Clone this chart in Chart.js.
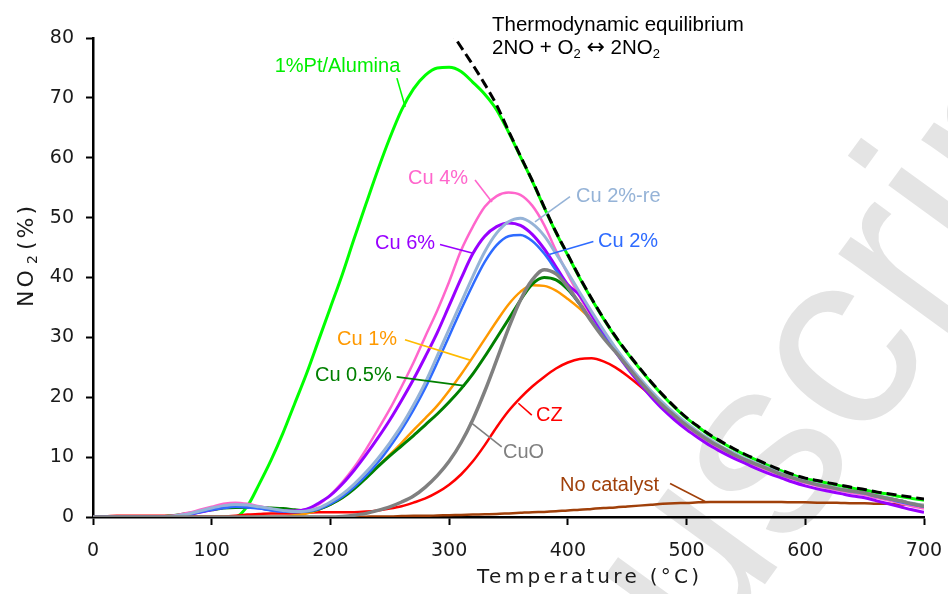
<!DOCTYPE html>
<html><head><meta charset="utf-8">
<script src="https://cdn.jsdelivr.net/npm/chart.js@4.4.1/dist/chart.umd.min.js"></script>
<style>html,body{margin:0;padding:0;background:#fff}canvas{display:block}</style>
</head><body>
<canvas id="ch" width="948" height="594"></canvas>
<script>
// NO2 vs temperature — Cu catalysts, Pt/Alumina, thermodynamic equilibrium
const temps=[0,10,20,30,40,50,60,70,80,90,100,110,120,130,140,150,160,170,180,190,200,210,220,230,240,250,260,270,280,290,300,310,320,330,340,350,360,370,380,390,400,410,420,430,440,450,460,470,480,490,500,510,520,530,540,550,560,570,580,590,600,610,620,630,640,650,660,670,680,690,700];
const xTicks=[0,100,200,300,400,500,600,700];
const yTicks=[0,10,20,30,40,50,60,70,80];

const equilibrium=[null,null,null,null,null,null,null,null,null,null,null,null,null,null,null,null,null,null,null,null,null,null,null,null,null,null,null,null,null,null,
 81.5,78.5,75.5,72.3,68.8,64.5,60.3,56.2,51.8,47.6,43.8,40.0,36.5,33.2,30.2,27.5,25.0,22.6,20.4,18.4,16.6,15.1,13.7,12.5,11.4,10.4,9.5,8.6,7.8,7.1,6.5,6.1,5.7,5.3,4.9,4.6,4.2,3.9,3.6,3.3,3.0];
const ptAlumina=[0,0,0,0,0,0,0,0,0,0,0,0,0,1.8,5.5,9.5,14.0,19.0,24.0,29.5,35.0,40.5,46.5,52.3,58.0,63.3,68.0,71.5,73.8,75.0,
 75.1,74.4,72.6,70.6,68.0,64.3,60.2,56.1,51.7,47.5,43.7,39.9,36.4,33.1,30.1,27.4,24.9,22.5,20.3,18.3,16.5,15.0,13.6,12.4,11.3,10.3,9.4,8.5,7.7,7.0,6.4,6.0,5.6,5.2,4.8,4.5,4.1,3.8,3.4,3.1,2.8];
const cu4=[0,0,0,0,0,0,0.1,0.3,0.7,1.2,1.7,2.2,2.4,2.2,1.8,1.4,1.1,1.0,1.3,2.1,3.7,5.8,8.3,11.3,14.6,18.0,21.8,25.8,30.2,34.5,
 39.3,44.5,48.5,51.8,53.6,54.2,53.8,52.0,48.8,44.5,40.5,36.8,33.3,30.3,27.6,25.0,22.6,20.4,18.4,16.7,15.1,13.7,12.4,11.3,10.2,9.3,8.5,7.7,6.9,6.3,5.7,5.2,4.8,4.4,4.0,3.7,3.2,2.8,2.3,1.8,1.4];
const cu6=[0,0,0,0,0,0,0,0.1,0.4,0.8,1.2,1.6,1.8,1.7,1.5,1.2,1.0,1.0,1.3,2.3,3.6,5.5,7.8,10.4,13.2,16.2,19.5,23.0,26.8,30.8,
 35.3,39.8,44.0,46.9,48.5,49.1,48.7,47.2,44.8,41.8,38.8,37.0,33.8,30.6,27.6,24.9,22.4,20.1,18.0,16.2,14.6,13.2,11.9,10.8,9.8,8.9,8.0,7.2,6.5,5.8,5.2,4.7,4.3,3.9,3.5,3.2,2.7,2.2,1.7,1.2,0.8];
const cu2re=[0,0,0,0,0,0,0,0.2,0.5,1.0,1.5,1.9,2.1,2.0,1.7,1.4,1.1,0.9,1.0,1.5,2.5,3.8,5.5,7.5,9.8,12.4,15.3,18.7,22.5,26.9,
 31.4,35.8,40.2,44.3,47.4,49.3,49.9,49.0,47.0,44.0,40.8,37.5,34.3,31.2,28.3,25.7,23.3,21.1,19.1,17.3,15.7,14.2,12.9,11.7,10.7,9.7,8.9,8.1,7.3,6.6,6.0,5.5,5.1,4.7,4.3,4.0,3.6,3.2,2.7,2.3,1.9];
const cu2=[0,0,0,0,0,0,0,0.1,0.4,0.8,1.2,1.5,1.7,1.6,1.4,1.1,0.9,0.8,0.9,1.3,2.2,3.4,5.0,6.9,9.1,11.7,14.6,17.9,21.6,25.8,
 30.2,34.6,38.8,42.6,45.4,46.9,47.1,46.1,44.0,41.2,38.3,35.5,32.8,30.2,27.6,25.1,22.8,20.6,18.7,16.9,15.3,13.9,12.6,11.5,10.4,9.5,8.7,7.9,7.1,6.5,5.9,5.4,5.0,4.6,4.2,3.9,3.4,3.0,2.5,2.1,1.7];
const cu1=[0,0,0,0,0,0,0,0,0,0,0,0,0,0,0,0,0,0.3,0.6,1.2,2.1,3.2,4.8,6.6,8.5,10.4,12.4,14.5,16.5,18.6,
 21.1,23.8,26.7,29.7,32.7,35.5,37.6,38.7,38.6,37.8,36.4,34.8,32.9,30.6,27.8,25.2,22.8,20.6,18.6,16.9,15.3,13.9,12.6,11.5,10.4,9.5,8.7,7.9,7.1,6.5,5.9,5.4,5.0,4.6,4.3,4.0,3.5,3.1,2.7,2.2,1.8];
const cu05=[0,0,0,0,0,0,0.1,0.3,0.6,0.9,1.2,1.5,1.6,1.6,1.6,1.5,1.4,1.2,1.0,1.3,2.1,3.2,4.7,6.5,8.4,10.2,11.9,13.6,15.4,17.2,
 19.2,21.4,23.9,26.8,29.9,33.0,36.2,38.9,40.0,39.6,38.0,35.6,33.0,30.4,27.8,25.2,22.8,20.6,18.6,16.9,15.3,13.9,12.6,11.5,10.4,9.5,8.7,7.9,7.1,6.5,5.9,5.4,5.0,4.6,4.3,4.0,3.5,3.1,2.7,2.2,1.8];
const cuO=[0,0,0,0,0,0,0,0,0,0,0,0,0,0,0,0,0,0,0,0,0,0.1,0.3,0.6,1.1,1.7,2.5,3.5,5.0,6.9,
 9.3,12.4,16.3,21.0,26.2,31.5,36.2,39.6,41.3,40.6,38.4,35.6,32.6,29.9,27.6,25.2,22.8,20.6,18.6,16.9,15.3,13.9,12.6,11.5,10.4,9.5,8.7,7.9,7.1,6.5,5.9,5.4,5.0,4.6,4.3,4.0,3.5,3.1,2.7,2.2,1.8];
const cz=[0.1,0.1,0.2,0.2,0.2,0.2,0.2,0.2,0.2,0.1,0.1,0.1,0.2,0.4,0.5,0.6,0.6,0.6,0.7,0.8,0.8,0.8,0.8,0.9,1.1,1.4,1.8,2.4,3.1,4.1,
 5.4,7.1,9.3,12.0,15.0,17.7,19.9,21.8,23.4,24.8,25.8,26.4,26.5,26.0,25.0,23.6,22.0,20.3,18.5,16.8,15.2,13.8,12.5,11.4,10.3,9.4,8.6,7.8,7.0,6.4,5.8,5.3,4.9,4.5,4.2,3.9,3.4,3.0,2.6,2.1,1.7];
const noCatalyst=[0,0,0,0,0,0,0,0,0,0,0,0,0,0,0,0,0,0,0,0,0,0,0,0.05,0.1,0.1,0.15,0.2,0.2,0.25,
 0.3,0.35,0.4,0.45,0.5,0.6,0.7,0.8,0.85,0.95,1.1,1.2,1.35,1.5,1.6,1.75,1.9,2.05,2.2,2.3,2.35,2.45,2.5,2.5,2.5,2.5,2.5,2.5,2.5,2.45,2.45,2.4,2.4,2.35,2.3,2.3,2.2,2.2,2.1,2.05,2.0];

(function(){
  const LBL='"Liberation Sans", Arial, sans-serif', VER='"DejaVu Sans", Verdana, sans-serif';
  // series: first = drawn on top
  const SER=[
    {label:'Equilibrium',data:equilibrium,color:'#000000',w:3,dash:[10,5]},
    {label:'CuO',data:cuO,color:'#808080',w:3.5},
    {label:'Cu 2%-re',data:cu2re,color:'#95b3d7',w:3},
    {label:'Cu 2%',data:cu2,color:'#2e6bff',w:2.5},
    {label:'Cu 6%',data:cu6,color:'#9900ff',w:3},
    {label:'Cu 4%',data:cu4,color:'#ff66cc',w:2.5},
    {label:'Cu 0.5%',data:cu05,color:'#008000',w:3},
    {label:'Cu 1%',data:cu1,color:'#ff9900',w:2.5},
    {label:'CZ',data:cz,color:'#ff0000',w:2.5},
    {label:'1%Pt/Alumina',data:ptAlumina,color:'#00ff00',w:3},
    {label:'No catalyst',data:noCatalyst,color:'#a0400a',w:2.5}
  ];
  // callouts in data units: text at, leader from -> to
  const NOTES=[
    {t:'1%Pt/Alumina',c:'#00ee00',lc:'#00ff00',at:[153,75.2],a:[256,73.3],b:[263,68.5]},
    {t:'Cu 4%',c:'#ff66cc',lc:'#ff66cc',at:[265.4,56.6],a:[321.8,56.3],b:[336.1,52.6]},
    {t:'Cu 6%',c:'#9900ff',lc:'#9900ff',at:[237.6,45.7],a:[292.3,45.5],b:[319.3,44.1]},
    {t:'Cu 2%-re',c:'#95b3d7',lc:'#95b3d7',at:[406.9,53.5],a:[401.8,53.5],b:[372.3,49.3]},
    {t:'Cu 2%',c:'#2e6bff',lc:'#2e6bff',at:[425.4,46.0],a:[421.5,46.0],b:[383.5,43.8]},
    {t:'Cu 1%',c:'#ff9900',lc:'#ffbb00',at:[205.6,29.6],a:[262.8,29.6],b:[317.6,26.2]},
    {t:'Cu 0.5%',c:'#008000',lc:'#008000',at:[187,23.7],a:[255.8,23.4],b:[313.4,21.9]},
    {t:'CZ',c:'#ff0000',lc:'#ff0000',at:[373.2,17.0],a:[369.6,17.0],b:[358.3,19.0]},
    {t:'CuO',c:'#808080',lc:'#808080',at:[345.4,10.8],a:[344.3,11.7],b:[317.6,15.9]},
    {t:'No catalyst',c:'#a0400a',lc:'#a0400a',at:[393.4,5.3],a:[486.1,5.6],b:[515.6,2.6]}
  ];

  const wm={id:'wm',beforeDraw(c){
    const ctx=c.ctx; ctx.save(); ctx.fillStyle='#fff'; ctx.fillRect(0,0,c.width,c.height);
    ctx.translate(704,668); ctx.rotate(-54*Math.PI/180);
    ctx.font='255px '+LBL; ctx.fillStyle='#e4e4e4'; ctx.textBaseline='alphabetic';
    const off=ctx.measureText('man').width; ctx.fillText('manuscript',-off,0); ctx.restore();
  }};

  const notes={id:'notes',afterDatasetsDraw(c){
    const ctx=c.ctx, X=c.scales.x, Y=c.scales.y;
    const px=p=>[X.getPixelForValue(p[0]),Y.getPixelForValue(p[1])];
    ctx.save();
    for(const n of NOTES){
      const a=px(n.a), b=px(n.b), t=px(n.at);
      ctx.strokeStyle=n.lc; ctx.lineWidth=1.6; ctx.beginPath(); ctx.moveTo(a[0],a[1]); ctx.lineTo(b[0],b[1]); ctx.stroke();
      ctx.font='20px '+LBL; ctx.fillStyle=n.c; ctx.textBaseline='middle'; ctx.textAlign='left'; ctx.fillText(n.t,t[0],t[1]);
    }
    // equilibrium caption
    ctx.fillStyle='#000'; ctx.textBaseline='alphabetic'; ctx.textAlign='left';
    ctx.font='20.5px '+LBL; ctx.fillText('Thermodynamic equilibrium',492,31);
    let x=492; const parts=[['2NO + O',0,'20.5px '+LBL],['2',1,'13px '+LBL],[' ',0,'20.5px '+LBL],['\u2194',0,'22px '+VER],[' 2NO',0,'20.5px '+LBL],['2',1,'13px '+LBL]];
    for(const [s,sub,f] of parts){ ctx.font=f; ctx.fillText(s,x,sub?58:54); x+=ctx.measureText(s).width; }
    // axis titles
    ctx.fillStyle='#1a1a1a'; ctx.letterSpacing='3.3px';
    ctx.font='20px '+VER; ctx.fillText('Temperature (\u00b0C)',477,583);
    ctx.translate(33,0); ctx.rotate(-Math.PI/2);
    ctx.letterSpacing='3px'; ctx.font='22px '+VER;
    ctx.fillText('NO',-307,0);
    ctx.letterSpacing='0px'; ctx.font='14px '+VER; ctx.fillText('2',-264,4);
    ctx.letterSpacing='3px'; ctx.font='22px '+VER; ctx.fillText('(%)',-250,0);
    ctx.restore();
  }};

  const axis=(ticks,fit)=>({
    type:'linear', min:ticks[0], max:ticks[ticks.length-1],
    afterBuildTicks:s=>{ s.ticks=ticks.map(v=>({value:v})); },
    afterFit:fit,
    border:{display:true,color:'#000',width:2.5},
    grid:{drawOnChartArea:false,drawTicks:true,tickLength:8,tickWidth:2,tickColor:'#000'},
    ticks:{color:'#1a1a1a',font:{family:VER,size:19},maxRotation:0,autoSkip:false}
  });
  const xs=axis(xTicks,s=>{ s.height=77; s.paddingLeft=0; s.paddingRight=0; }); xs.ticks.padding=15;
  const ys=axis(yTicks,s=>{ s.width=93; s.paddingTop=0; s.paddingBottom=0; }); ys.ticks.padding=12; ys.grid.tickLength=7;

  new Chart(document.getElementById('ch'),{
    type:'line',
    data:{datasets:SER.map(s=>({
      label:s.label, data:temps.map((t,i)=>({x:t,y:s.data[i]})),
      borderColor:s.color, borderWidth:s.w, borderDash:s.dash||[], pointRadius:0,
      tension:0.35, cubicInterpolationMode:'monotone', fill:false, spanGaps:false
    }))},
    options:{
      responsive:false, animation:false, devicePixelRatio:1,
      layout:{autoPadding:false,padding:{top:38,right:24,left:0,bottom:0}},
      plugins:{legend:{display:false},tooltip:{enabled:false}},
      scales:{x:xs,y:ys}
    },
    plugins:[wm,notes]
  });
})();
</script>
</body></html>
